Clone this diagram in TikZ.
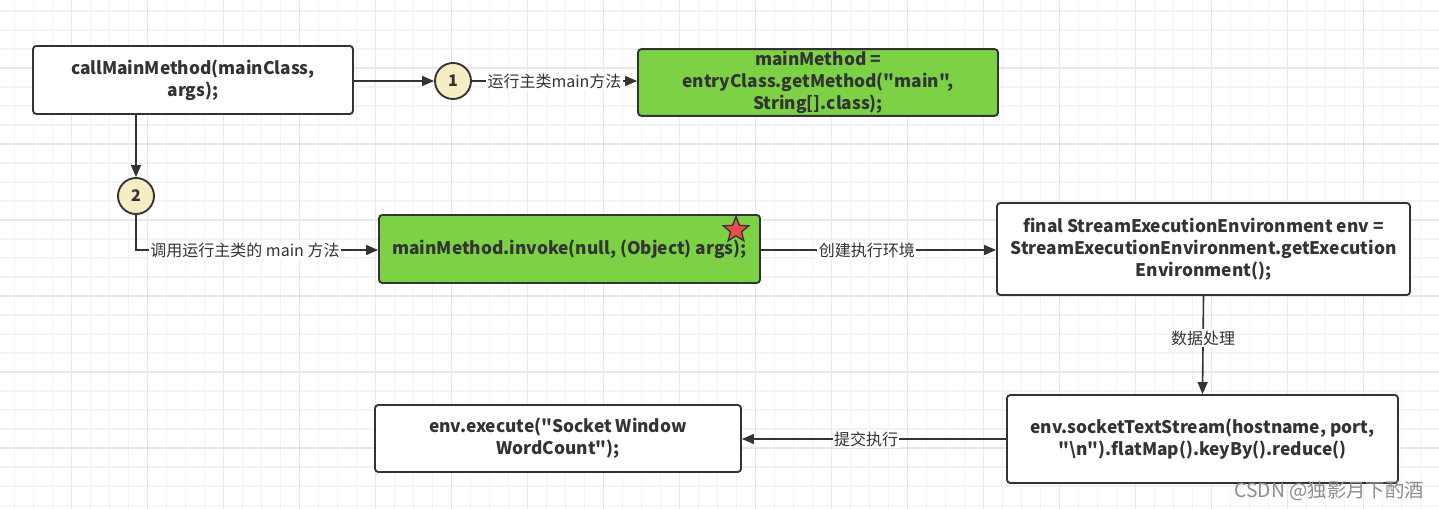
\documentclass[tikz,border=0pt]{standalone}
\usepackage{fontspec}
\setmainfont{Noto Sans CJK SC}[Ligatures=TeXOff]
\usetikzlibrary{arrows.meta,shapes.geometric}
\definecolor{lineC}{HTML}{333333}
\definecolor{gridMinor}{HTML}{F3F3F3}
\definecolor{gridMajor}{HTML}{E8E8E8}
\definecolor{greenF}{HTML}{7CD244}
\definecolor{circF}{HTML}{F5EDC4}
\definecolor{starF}{HTML}{EE4B4B}
\tikzset{
  box/.style={draw=lineC, line width=1.4pt, rounded corners=2.5pt, fill=white, align=center,
    font=\fontsize{13pt}{16.5pt}\selectfont\bfseries, text=lineC, inner sep=0pt},
  gbox/.style={box, fill=greenF},
  numc/.style={circle, draw=lineC, line width=1.4pt, fill=circF, minimum size=27pt, inner sep=0pt,
    font=\fontsize{12pt}{12pt}\selectfont\bfseries, text=lineC},
  conn/.style={draw=lineC, line width=1.2pt, -{Triangle[length=9pt,width=7.5pt]}},
  lab/.style={fill=white, inner sep=1pt, font=\fontsize{12pt}{13pt}\selectfont, text=lineC},
}
\begin{document}
\begin{tikzpicture}[x=0.75pt, y=-0.75pt]
\useasboundingbox (0,0) rectangle (1439,509);
\fill[white] (0,0) rectangle (1439,509);
% grid
\foreach \x in {-4.7,14.3,...,1440} {\draw[gridMinor, line width=1.2pt] (\x,0) -- (\x,509);}
\foreach \y in {-7.7,11.3,...,510} {\draw[gridMinor, line width=1.2pt] (0,\y) -- (1439,\y);}
\foreach \x in {-4.7,71.3,...,1440} {\draw[gridMajor, line width=1.2pt] (\x,0) -- (\x,509);}
\foreach \y in {-7.7,68.3,...,510} {\draw[gridMajor, line width=1.2pt] (0,\y) -- (1439,\y);}

% nodes
\node[box, minimum width=240pt, minimum height=51pt] (call) at (193,80) {callMainMethod(mainClass,\\args);};
\node[numc] (c1) at (453,81) {1};
\node[numc] (c2) at (136,196) {2};
\node[gbox, minimum width=270pt, minimum height=50pt] (gm) at (818,82.5) {mainMethod =\\entryClass.getMethod("main",\\String[].class);};
\node[gbox, minimum width=285.75pt, minimum height=51pt] (inv) at (569.5,249) {mainMethod.invoke(null, (Object) args);};
\node[box, minimum width=309.75pt, minimum height=69pt] (env) at (1203.5,249) {final StreamExecutionEnvironment env =\\StreamExecutionEnvironment.getExecution\\Environment();};
\node[box, minimum width=293.25pt, minimum height=66pt] (sock) at (1202.5,439) {env.socketTextStream(hostname, port,\\"\textbackslash n").flatMap().keyBy().reduce()};
\node[box, minimum width=274.5pt, minimum height=50.25pt] (exe) at (558,438.5) {env.execute("Socket Window\\WordCount");};
\node[star, star points=5, star point ratio=2.3, draw=lineC, line width=1pt, fill=starF, minimum size=20pt, inner sep=0pt] (st) at (736,230) {};

% connectors
\draw[conn] (call.east |- c1) -- (c1.west);
\draw[conn] (c1.east) -- node[lab]{运行主类main方法} (gm.west |- c1);
\draw[conn] (call.south -| c2) -- (c2.north);
\coordinate (bend) at (136,250);
\draw[conn] (c2.south) -- (bend) -- node[lab, pos=0.45]{调用运行主类的 main 方法} (inv.west |- bend);
\draw[conn] (inv.east |- bend) -- node[lab, pos=0.45]{创建执行环境} (env.west |- bend);
\draw[conn] (env.south) -- node[lab, pos=0.43]{数据处理} (sock.north);
\draw[conn] (sock.west) -- node[lab, pos=0.53]{提交执行} (exe.east |- sock.west);

\node[font=\fontsize{14.5pt}{15pt}\selectfont, text=black!45, anchor=east, inner sep=0pt] (wm) at (1424,491) {CSDN @独影月下酌酒};
\end{tikzpicture}
\end{document}
